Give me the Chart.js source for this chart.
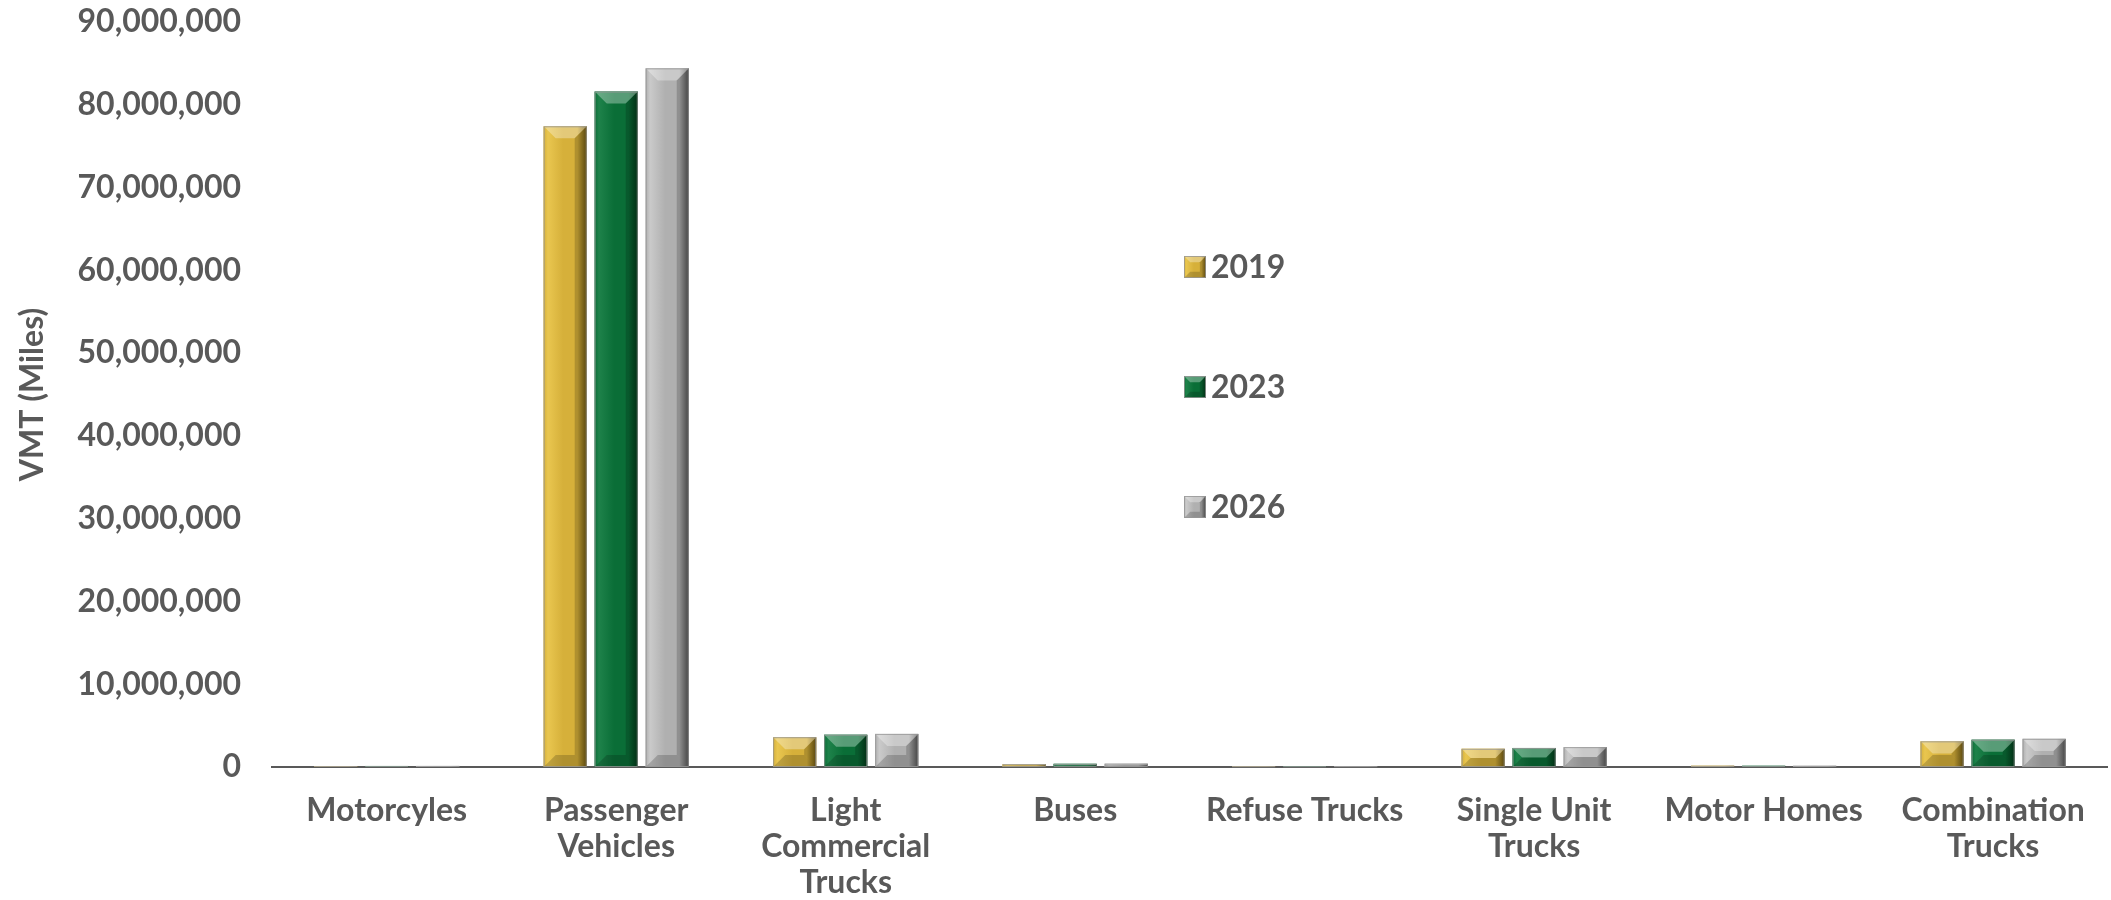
<!DOCTYPE html>
<html>
<head>
<meta charset="utf-8">
<script src="https://cdn.jsdelivr.net/npm/chart.js@4"></script>
<style>
  html, body { margin: 0; padding: 0; background: #fff; }
  #wrap { width: 2111px; height: 900px; position: relative; }
</style>
</head>
<body>
<div id="wrap"><canvas id="vmtChart"></canvas></div>
<script>
// categorias (se respeta el texto original)
const categorias = [
  "Motorcyles",
  ["Passenger", "Vehicles"],
  ["Light", "Commercial", "Trucks"],
  "Buses",
  "Refuse Trucks",
  ["Single Unit", "Trucks"],
  "Motor Homes",
  ["Combination", "Trucks"]
];
const anios = ["2019", "2023", "2026"];
const vmt2019 = [120000, 77400000, 3600000, 350000, 90000, 2200000, 150000, 3100000];
const vmt2023 = [125000, 81600000, 3900000, 380000, 95000, 2300000, 140000, 3300000];
const vmt2026 = [130000, 84400000, 4000000, 400000, 100000, 2400000, 140000, 3400000];
const yMax = 90000000;
const yPaso = 10000000;

// colores: [medio, claro, oscuro]
const paletas = [
  ["#D6B03A", "#E9C64F", "#6F5812"],
  ["#0A6E37", "#1E824A", "#033A1A"],
  ["#B0B0B0", "#CACACA", "#555555"]
];
const gris = "#595959";
const fuente = "Lato";
const tam = 32;

function dibujarBisel(ctx, left, top, right, bottom, pal) {
  const w = right - left, h = bottom - top;
  if (w <= 0 || h <= 0) return;
  const g = ctx.createLinearGradient(left, 0, right, 0);
  g.addColorStop(0, pal[0]);
  g.addColorStop(0.1, pal[1]);
  g.addColorStop(0.45, pal[0]);
  g.addColorStop(0.78, pal[0]);
  g.addColorStop(1, pal[2]);
  ctx.fillStyle = g;
  ctx.fillRect(left, top, w, h);
  const b = Math.min(w * 0.28, h / 2);
  // bisel superior
  ctx.fillStyle = "rgba(255,255,255,0.32)";
  ctx.beginPath();
  ctx.moveTo(left, top); ctx.lineTo(right, top);
  ctx.lineTo(right - b, top + b); ctx.lineTo(left + b, top + b);
  ctx.closePath(); ctx.fill();
  // bisel inferior
  ctx.fillStyle = "rgba(0,0,0,0.18)";
  ctx.beginPath();
  ctx.moveTo(left, bottom); ctx.lineTo(right, bottom);
  ctx.lineTo(right - b, bottom - b); ctx.lineTo(left + b, bottom - b);
  ctx.closePath(); ctx.fill();
  // bisel derecho
  ctx.fillStyle = "rgba(0,0,0,0.18)";
  ctx.beginPath();
  ctx.moveTo(right, top); ctx.lineTo(right, bottom);
  ctx.lineTo(right - b, bottom - b); ctx.lineTo(right - b, top + b);
  ctx.closePath(); ctx.fill();
  ctx.strokeStyle = "rgba(150,150,150,0.8)";
  ctx.lineWidth = 1;
  ctx.strokeRect(left + 0.5, top + 0.5, w - 1, h - 1);
}

const biselPlugin = {
  id: "bisel",
  afterDatasetsDraw(chart) {
    const ctx = chart.ctx;
    ctx.save();
    chart.data.datasets.forEach((ds, i) => {
      const meta = chart.getDatasetMeta(i);
      meta.data.forEach(el => {
        const p = el.getProps(["x", "y", "base", "width"], true);
        dibujarBisel(ctx, p.x - p.width / 2, Math.min(p.y, p.base), p.x + p.width / 2, Math.max(p.y, p.base), paletas[i]);
      });
    });
    ctx.restore();
  }
};

// leyenda vertical dentro del area del grafico
const leyendaPlugin = {
  id: "leyendaVertical",
  afterDraw(chart) {
    const ctx = chart.ctx;
    const filas = [267, 387, 507];
    ctx.save();
    chart.data.datasets.forEach((ds, i) => {
      const y = filas[i];
      dibujarBisel(ctx, 1184, y - 11, 1206, y + 11, paletas[i]);
      ctx.fillStyle = gris;
      ctx.font = "bold " + tam + "px " + fuente;
      ctx.textBaseline = "middle";
      ctx.textAlign = "left";
      ctx.fillText(ds.label, 1211, y + 1);
    });
    ctx.restore();
  }
};

const series = [vmt2019, vmt2023, vmt2026];

new Chart(document.getElementById("vmtChart").getContext("2d"), {
  type: "bar",
  data: {
    labels: categorias,
    datasets: anios.map((a, i) => ({
      label: a,
      data: series[i],
      backgroundColor: paletas[i][0],
      borderWidth: 0,
      categoryPercentage: 0.667,
      barPercentage: 0.845
    }))
  },
  options: {
    responsive: true,
    maintainAspectRatio: false,
    animation: false,
    layout: { padding: { top: 22, right: 3, left: 13, bottom: 0 } },
    plugins: {
      legend: { display: false },
      tooltip: { enabled: false }
    },
    scales: {
      x: {
        grid: { display: false, drawTicks: false },
        border: { display: true, color: gris, width: 2 },
        ticks: {
          color: gris,
          font: { family: fuente, size: tam, weight: "bold", lineHeight: 1.12 },
          padding: 26,
          maxRotation: 0,
          autoSkip: false
        },
        afterFit: s => { s.height = 133; }
      },
      y: {
        min: 0,
        max: yMax,
        grid: { display: false, drawTicks: false },
        border: { display: false },
        ticks: {
          stepSize: yPaso,
          color: gris,
          font: { family: fuente, size: tam, weight: "bold" },
          padding: 31,
          callback: v => v.toLocaleString("en-US")
        },
        title: {
          display: true,
          text: "VMT (Miles)",
          color: gris,
          font: { family: fuente, size: tam, weight: "bold" },
          padding: { top: 0, bottom: 0 }
        },
        afterFit: s => {
          s.width = 259;
          s.paddingTop = 0;
          s.paddingBottom = 0;
        }
      }
    }
  },
  plugins: [biselPlugin, leyendaPlugin]
});
</script>
</body>
</html>
